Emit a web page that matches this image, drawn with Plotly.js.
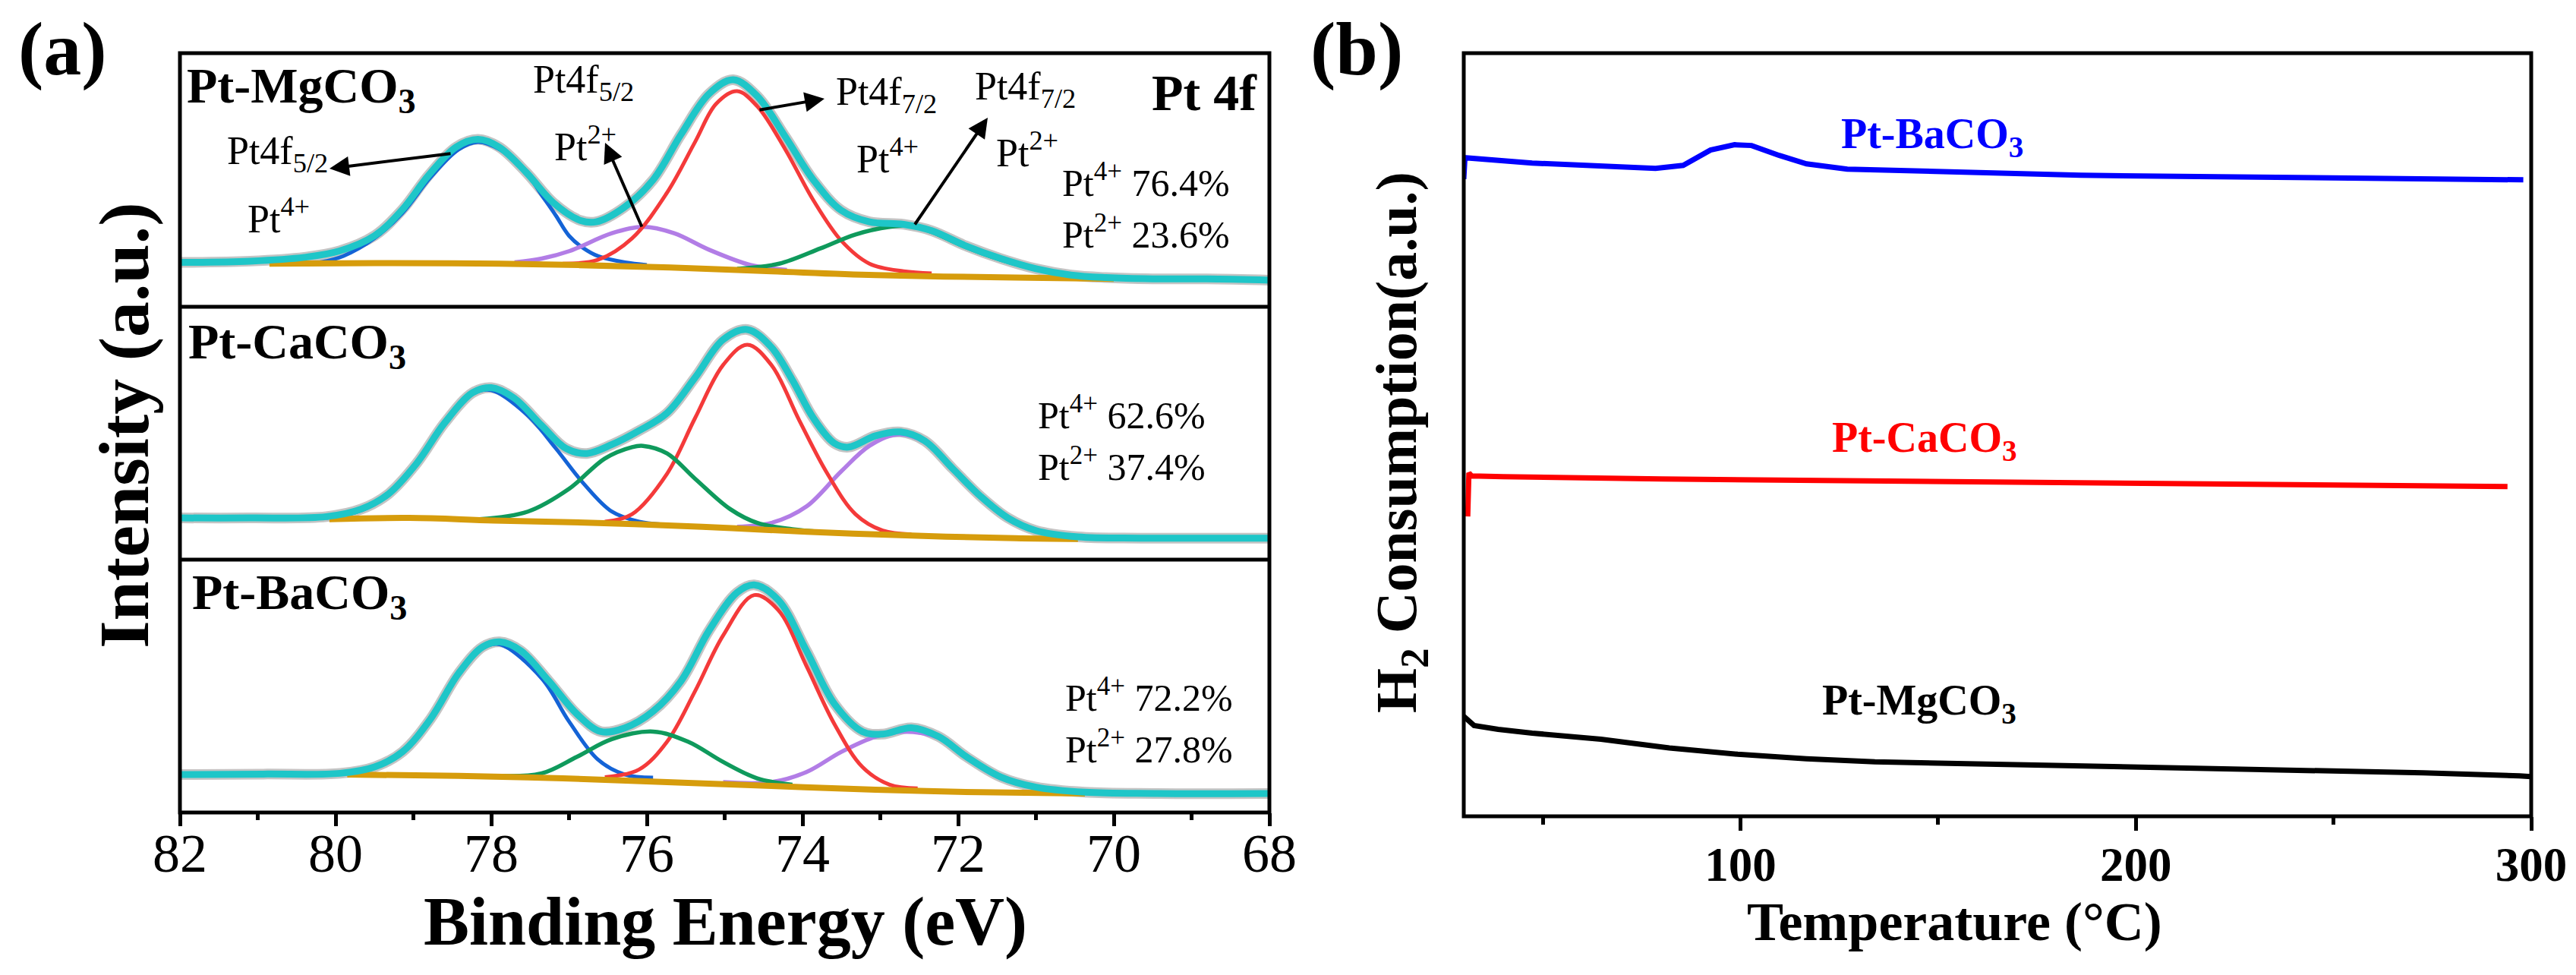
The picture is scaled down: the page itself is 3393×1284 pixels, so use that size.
<!DOCTYPE html>
<html>
<head>
<meta charset="utf-8">
<script src="https://cdn.plot.ly/plotly-3.0.1.min.js"></script>
<style>
  body { margin: 0; background: #fff; }
  #plot { width: 3393px; height: 1284px; }
</style>
</head>
<body>
<div id="plot"></div>
<script>
// ---- (a) XPS Pt 4f (intensity in % of sub-panel height)
// Pt-MgCO3
var mgE = [82, 81.1, 80.4, 79.95, 79.5, 79.15, 78.8, 78.45, 78.17, 77.9, 77.55, 77.2, 76.85, 76.65, 76.3, 75.92, 75.56, 75.2, 74.89, 74.58, 74.22, 73.86, 73.5, 73.14, 72.7, 72.34, 71.9, 71.45, 71.0, 70.55, 70.1, 69.5, 68.8, 68.0];
var mgEnv = [17.5, 18, 19.5, 22, 28, 38, 52, 63, 66, 63, 53, 41, 34, 33.5, 39, 50, 68, 84, 89.5, 83, 67, 50, 38, 33.5, 32.5, 30, 24, 19, 15, 12.5, 11.5, 11, 11, 10.5];
var mgBgE = [80.85, 79.5, 77.9, 75.7, 74.4, 73.06, 71.27, 70.0];
var mgBg = [17, 17.2, 17, 15.5, 14, 12.5, 11.5, 11];
var mgBlueE = [80.2, 79.9, 79.5, 79.14, 78.78, 78.42, 78.17, 77.89, 77.53, 77.35, 77.17, 77.0, 76.81, 76.63, 76.28, 76.0];
var mgBlue = [17.5, 20, 27, 37, 51, 62, 65, 62, 52, 44, 36, 28, 23, 20, 17.5, 16.5];
var mgPurpleE = [77.7, 77.35, 76.99, 76.45, 76.05, 75.65, 75.2, 74.67, 74.2];
var mgPurple = [17.5, 19, 22, 29, 31.5, 29, 22.5, 16.5, 14.5];
var mgRedE = [77.08, 76.63, 76.19, 75.74, 75.38, 75.11, 74.84, 74.58, 74.22, 73.86, 73.5, 73.14, 72.7, 72.34];
var mgRed = [17, 18.5, 27, 45, 65, 80, 85, 79, 62, 42, 26, 17, 14, 13.2];
var mgGreenE = [74.84, 74.3, 73.77, 73.32, 72.88, 72.6, 72.34, 71.9, 71.45, 71.0, 70.55, 70.1];
var mgGreen = [15, 17, 23, 28.5, 31.5, 32, 29.5, 23.5, 18.5, 14.8, 12.5, 11.5];

// Pt-CaCO3
var caE = [82, 81.1, 80.12, 79.67, 79.32, 78.96, 78.6, 78.24, 78.0, 77.71, 77.35, 77.04, 76.77, 76.45, 76.1, 75.74, 75.38, 75.02, 74.71, 74.4, 74.13, 73.86, 73.59, 73.41, 73.06, 72.74, 72.43, 72.07, 71.71, 71.36, 71.0, 70.46, 69.66, 68.76, 68.0];
var caEnv = [16.5, 16.5, 17, 20, 26, 38, 54, 66, 68, 64, 53, 44, 42, 45.5, 51, 58, 72, 87, 91, 84, 71, 56, 46, 44.5, 49, 50.5, 47, 36, 25, 16.5, 11.5, 9, 8.5, 8.5, 8.5];
var caBgE = [80.08, 79.05, 77.97, 76.63, 75.29, 73.95, 72.6, 71.27, 70.46];
var caBg = [16, 16.5, 15.5, 14.5, 13, 11, 9.5, 8.5, 8.2];
var caBlueE = [80.12, 79.67, 79.32, 78.96, 78.6, 78.24, 78.0, 77.53, 77.17, 76.81, 76.45, 76.1, 75.83];
var caBlue = [16.5, 19.5, 25.5, 37.5, 53.5, 65.5, 67, 57, 44, 30, 19, 15, 14];
var caGreenE = [78.15, 77.53, 77.0, 76.54, 76.19, 76.05, 75.74, 75.38, 74.93, 74.58, 74.13, 73.77];
var caGreen = [16, 19, 28, 40, 44.5, 45, 42, 32, 20, 14.5, 12, 11];
var caRedE = [76.54, 76.19, 75.74, 75.38, 75.02, 74.71, 74.4, 74.04, 73.68, 73.32, 72.97, 72.6];
var caRed = [15, 18, 34, 56, 77, 85, 77, 55, 34, 18, 11.5, 10];
var caPurpleE = [74.84, 74.4, 73.95, 73.5, 73.14, 72.79, 72.43, 72.07, 71.71, 71.36, 71.0, 70.46];
var caPurple = [13, 14.5, 21, 35, 45, 49.5, 46.5, 35.5, 24.5, 16, 11.3, 9];

// Pt-BaCO3
var baE = [82, 80.93, 79.94, 79.5, 79.14, 78.78, 78.42, 78.11, 77.89, 77.62, 77.26, 76.9, 76.59, 76.28, 75.92, 75.56, 75.2, 74.84, 74.62, 74.31, 73.95, 73.59, 73.23, 72.97, 72.6, 72.25, 71.89, 71.45, 71.0, 70.37, 69.48, 68.0];
var baEnv = [15, 15.2, 15.5, 18, 24, 37, 55, 65.5, 67.5, 64, 52, 39, 32, 33.5, 40, 52, 72, 87, 90, 84, 64, 43, 32, 31, 33.5, 30, 22, 14, 10, 8, 7.5, 7.5];
var baBgE = [79.85, 78.42, 77.08, 75.74, 74.4, 73.06, 71.71, 70.37];
var baBg = [15, 14.5, 13.5, 12, 10.5, 9, 8, 7.5];
var baBlueE = [79.94, 79.5, 79.14, 78.78, 78.42, 78.11, 77.89, 77.35, 77.0, 76.63, 76.28, 75.92];
var baBlue = [15.3, 17.7, 23.5, 36.5, 54.5, 65, 66.5, 53, 36, 21, 15, 13.8];
var baGreenE = [77.89, 77.35, 76.9, 76.45, 75.92, 75.47, 75.02, 74.58, 74.13];
var baGreen = [14.5, 15.5, 22, 29, 32, 28, 20, 13.5, 11];
var baRedE = [76.54, 76.1, 75.74, 75.38, 75.02, 74.62, 74.31, 73.95, 73.59, 73.23, 72.88, 72.52];
var baRed = [14, 17, 28, 48, 70, 86, 80, 58, 35, 18, 11, 9.5];
var baPurpleE = [75.02, 74.4, 73.95, 73.5, 73.06, 72.7, 72.25, 71.89, 71.45, 71.0, 70.37];
var baPurple = [12, 12, 16, 24, 30, 32, 29.5, 21.5, 13.5, 9.8, 8];

var eTicks = [82, 80, 78, 76, 74, 72, 70, 68];

// ---- (b) H2-TPR
var baT = [30, 30.3, 47.3, 64.7, 78.5, 85.5, 92.4, 98.5, 102.8, 109.8, 116.7, 127, 151.4, 186, 220.7, 255.4, 298];
var baTpr = [83.5, 86.3, 85.6, 85.2, 84.9, 85.3, 87.3, 88.0, 87.9, 86.6, 85.5, 84.8, 84.4, 84.0, 83.8, 83.6, 83.4];
var caT = [31, 31.3, 32, 40, 80, 120, 160, 200, 240, 294];
var caTpr = [39.3, 45.0, 44.6, 44.5, 44.2, 44.0, 43.7, 43.6, 43.4, 43.2];
var mgT = [30, 32.6, 38.7, 47.3, 64.7, 82, 99.3, 116.7, 134, 151.4, 168.7, 194.7, 220.7, 246.7, 272.7, 297, 300];
var mgTpr = [13.1, 11.9, 11.4, 10.9, 10.1, 8.96, 8.13, 7.53, 7.13, 6.97, 6.8, 6.57, 6.24, 5.94, 5.7, 5.3, 5.2];

var W = 3393, H = 1284;
var serif = 'Liberation Serif, Times New Roman, serif';
var col = {cyan: '#1ec6c8', gray: '#c4c4c4', blue: '#1463d6', red: '#f43a3a',
           purple: '#b27de6', green: '#0f9a5c', orange: '#d69c0c'};

function line(x, y, color, width, yaxis, xaxis, shape) {
  return {x: x, y: y, type: 'scatter', mode: 'lines', xaxis: xaxis || 'x', yaxis: yaxis,
          line: {color: color, width: width, shape: shape || 'spline', smoothing: 1},
          hoverinfo: 'skip'};
}

var panels = [
  {ya: 'y', E: mgE, env: mgEnv, bgE: mgBgE, bg: mgBg, blue: [mgBlueE, mgBlue], purple: [mgPurpleE, mgPurple], red: [mgRedE, mgRed], green: [mgGreenE, mgGreen]},
  {ya: 'y2', E: caE, env: caEnv, bgE: caBgE, bg: caBg, blue: [caBlueE, caBlue], purple: [caPurpleE, caPurple], red: [caRedE, caRed], green: [caGreenE, caGreen]},
  {ya: 'y3', E: baE, env: baEnv, bgE: baBgE, bg: baBg, blue: [baBlueE, baBlue], purple: [baPurpleE, baPurple], red: [baRedE, baRed], green: [baGreenE, baGreen]}
];

var data = [];
panels.forEach(function (p) {
  data.push(line(p.E, p.env, col.gray, 14, p.ya));
  data.push(line(p.blue[0], p.blue[1], col.blue, 5, p.ya));
  data.push(line(p.purple[0], p.purple[1], col.purple, 5.5, p.ya));
  data.push(line(p.red[0], p.red[1], col.red, 5, p.ya));
  data.push(line(p.green[0], p.green[1], col.green, 5.5, p.ya));
  data.push(line(p.bgE, p.bg, col.orange, 8, p.ya));
  data.push(line(p.E, p.env, col.cyan, 9, p.ya));
});
data.push(line(baT, baTpr, '#0000ff', 7, 'y4', 'x2', 'linear'));
data.push(line(caT, caTpr, '#ff0000', 7, 'y4', 'x2', 'linear'));
data.push(line(mgT, mgTpr, '#000000', 7, 'y4', 'x2', 'linear'));

// pixel helpers
function px(x) { return x / W; }
function py(y) { return 1 - y / H; }

function txt(text, x, y, size, o) {
  o = o || {};
  return {text: text, xref: 'paper', yref: 'paper', x: px(x), y: py(y),
          xanchor: o.xa || 'left', yanchor: 'middle', showarrow: false,
          textangle: o.angle || 0,
          font: {family: serif, size: size, color: o.color || '#000', weight: o.bold ? 'bold' : 'normal'}};
}
function arrow(hx, hy, tx, ty) {
  return {text: '', xref: 'paper', yref: 'paper', x: px(hx), y: py(hy), ax: tx - hx, ay: ty - hy,
          showarrow: true, arrowhead: 2, arrowsize: 1.3, arrowwidth: 4, arrowcolor: '#000', standoff: 0};
}

var annotations = [
  txt('(a)', 82, 64, 100, {xa: 'center', bold: true}),
  txt('(b)', 1787, 64, 100, {xa: 'center', bold: true}),
  txt('Intensity (a.u.)', 163, 560, 94, {xa: 'center', bold: true, angle: -90}),
  txt('H<sub>2</sub> Consumption(a.u.)', 1845, 582, 76, {xa: 'center', bold: true, angle: -90}),
  txt('Binding Energy (eV)', 956, 1214, 90, {xa: 'center', bold: true}),
  txt('Temperature (°C)', 2574, 1214, 72, {xa: 'center', bold: true}),

  txt('Pt-MgCO<sub>3</sub>', 244, 118, 66, {bold: true}),
  txt('Pt 4f', 1658, 122, 68, {xa: 'right', bold: true}),
  txt('Pt4f<sub>5/2</sub>', 700, 108, 52),
  txt('Pt<sup>2+</sup>', 728, 190, 52),
  txt('Pt4f<sub>5/2</sub>', 297, 203, 52),
  txt('Pt<sup>4+</sup>', 324, 284, 52),
  txt('Pt4f<sub>7/2</sub>', 1099, 125, 52),
  txt('Pt<sup>4+</sup>', 1126, 206, 52),
  txt('Pt4f<sub>7/2</sub>', 1282, 118, 52),
  txt('Pt<sup>2+</sup>', 1310, 198, 52),
  txt('Pt<sup>4+</sup> 76.4%', 1397, 238, 50),
  txt('Pt<sup>2+</sup> 23.6%', 1397, 306, 50),

  txt('Pt-CaCO<sub>3</sub>', 246, 454, 66, {bold: true}),
  txt('Pt<sup>4+</sup> 62.6%', 1365, 543, 50),
  txt('Pt<sup>2+</sup> 37.4%', 1365, 611, 50),

  txt('Pt-BaCO<sub>3</sub>', 251, 784, 66, {bold: true}),
  txt('Pt<sup>4+</sup> 72.2%', 1401, 915, 50),
  txt('Pt<sup>2+</sup> 27.8%', 1401, 983, 50),

  txt('Pt-BaCO<sub>3</sub>', 2423, 180, 56, {color: '#0000ff', bold: true}),
  txt('Pt-CaCO<sub>3</sub>', 2411, 580, 56, {color: '#ff0000', bold: true}),
  txt('Pt-MgCO<sub>3</sub>', 2398, 926, 56, {bold: true}),

  arrow(434, 222, 595, 202),
  arrow(797, 188, 846, 300),
  arrow(1086, 130, 999, 145),
  arrow(1301, 155, 1204, 297)
];

var frame = {color: '#000', width: 5};
var shapes = [
  {type: 'rect', xref: 'paper', yref: 'paper', x0: px(237), x1: px(1672), y0: py(1070), y1: py(70), line: frame},
  {type: 'line', xref: 'paper', yref: 'paper', x0: px(237), x1: px(1672), y0: py(404), y1: py(404), line: frame},
  {type: 'line', xref: 'paper', yref: 'paper', x0: px(237), x1: px(1672), y0: py(737), y1: py(737), line: frame},
  {type: 'rect', xref: 'paper', yref: 'paper', x0: px(1928), x1: px(3334), y0: py(1075), y1: py(70), line: frame}
];

var hiddenY = {range: [0, 100], showticklabels: false, ticks: '', showgrid: false, zeroline: false, showline: false, fixedrange: true};

var layout = {
  width: W, height: H,
  margin: {l: 0, r: 0, t: 0, b: 0},
  paper_bgcolor: '#fff', plot_bgcolor: '#fff',
  showlegend: false,
  font: {family: serif, color: '#000'},
  xaxis: {
    domain: [px(237), px(1672)], anchor: 'y3', range: [82, 68],
    tickvals: eTicks, ticks: 'outside', ticklen: 17, tickwidth: 5, tickcolor: '#000',
    minor: {ticks: 'outside', ticklen: 9, tickwidth: 5, tickcolor: '#000', dtick: 1, tick0: 68},
    tickfont: {family: serif, size: 72, color: '#000'},
    ticklabelstandoff: -26,
    showgrid: false, zeroline: false, showline: false
  },
  yaxis: Object.assign({domain: [py(404), py(70)], anchor: 'x'}, hiddenY),
  yaxis2: Object.assign({domain: [py(737), py(404)], anchor: 'x'}, hiddenY),
  yaxis3: Object.assign({domain: [py(1070), py(737)], anchor: 'x'}, hiddenY),
  xaxis2: {
    domain: [px(1928), px(3334)], anchor: 'y4', range: [30, 300],
    tick0: 0, dtick: 100, ticks: 'outside', ticklen: 18, tickwidth: 5, tickcolor: '#000',
    minor: {ticks: 'outside', ticklen: 10, tickwidth: 5, tickcolor: '#000', dtick: 50, tick0: 0},
    tickfont: {family: serif, size: 63, color: '#000', weight: 'bold'},
    ticklabelstandoff: -10,
    showgrid: false, zeroline: false, showline: false
  },
  yaxis4: Object.assign({domain: [py(1075), py(70)], anchor: 'x2'}, hiddenY),
  annotations: annotations,
  shapes: shapes
};

Plotly.newPlot('plot', data, layout, {staticPlot: true});
</script>
</body>
</html>
